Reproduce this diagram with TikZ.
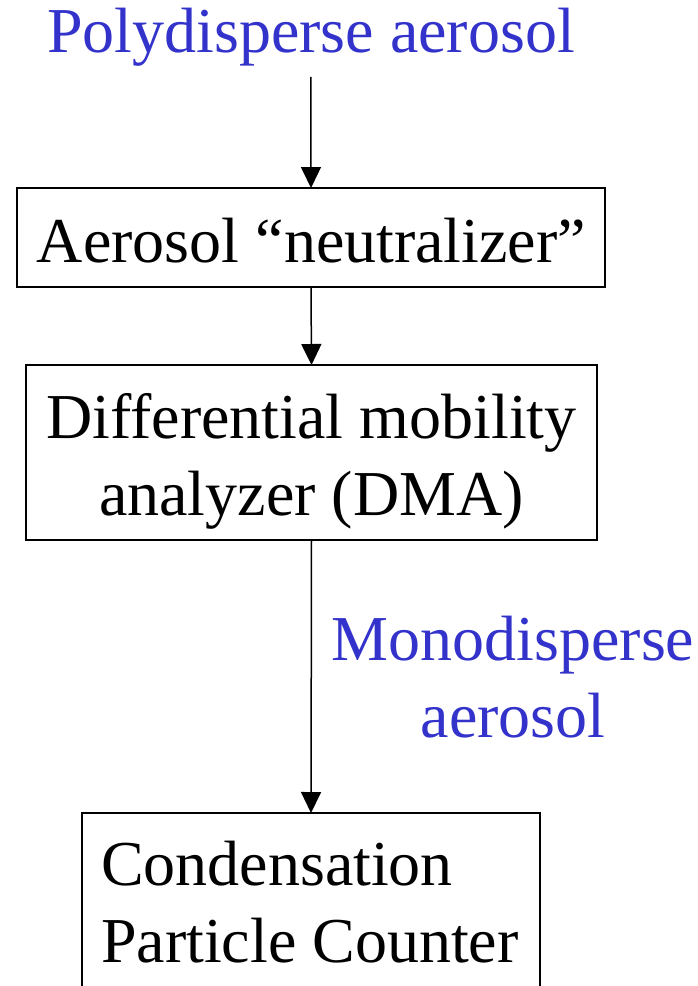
\documentclass[tikz,border=0pt]{standalone}
\usepackage{fontspec}
\setmainfont{Liberation Serif}
\usetikzlibrary{arrows.meta}
\definecolor{lblblue}{RGB}{51,51,204}
\begin{document}
\begin{tikzpicture}[x=1pt,y=-1pt,
  box/.style={draw=black, line width=1.5pt, inner sep=0pt, outer sep=0pt},
  txt/.style={font=\fontsize{64}{77}\selectfont, inner sep=0pt, outer sep=0pt},
  arr/.style={line width=1.5pt, -{Triangle[length=21pt,width=20pt]}}]
\useasboundingbox (0,0) rectangle (698,986);
% title
\node[txt, text=lblblue, anchor=base west] (poly) at (47,52) {Polydisperse aerosol};
% boxes
\node[box, minimum width=588pt, minimum height=99pt] (neut) at (311,237.5) {};
\node[txt, anchor=base] (neuttext) at (311.5,262) {Aerosol “neutralizer”};
\node[box, minimum width=571pt, minimum height=175pt] (dma) at (311.5,452.5) {};
\node[txt, anchor=base, align=center] (dmatext) at (311.5,515) {Differential mobility\\analyzer (DMA)};
\node[box, minimum width=458pt, minimum height=200pt] (cpc) at (311,913) {};
\node[txt, anchor=base west, align=left] (cpctext) at (101,962) {Condensation\\Particle Counter};
% label
\node[txt, text=lblblue, anchor=base, align=center] (mono) at (513,737) {Monodisperse\\aerosol};
% connectors
\draw[arr] ([yshift=-11pt]poly.south) -- (neut.north);
\draw[arr] (neut.south) -- (dma.north);
\draw[arr] (dma.south) -- (cpc.north);
\end{tikzpicture}
\end{document}
